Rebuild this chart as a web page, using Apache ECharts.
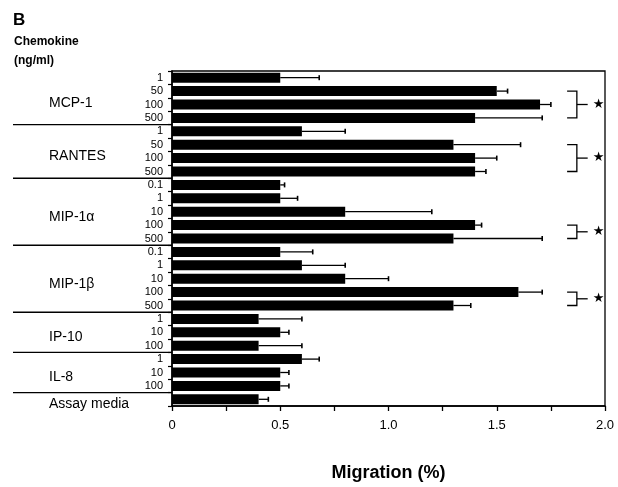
<!DOCTYPE html>
<html>
<head>
<meta charset="utf-8">
<script src="https://cdn.jsdelivr.net/npm/echarts@6/dist/echarts.min.js"></script>
<style>html,body{margin:0;padding:0;background:#fff}#c{width:618px;height:487px}</style>
</head>
<body>
<div id="c"></div>
<script>
const groupNames = ['MCP-1', 'RANTES', 'MIP-1\u03b1', 'MIP-1\u03b2', 'IP-10', 'IL-8', 'Assay media'];
const concLabels = [
  ['1', '50', '100', '500'],
  ['1', '50', '100', '500'],
  ['0.1', '1', '10', '100', '500'],
  ['0.1', '1', '10', '100', '500'],
  ['1', '10', '100'],
  ['1', '10', '100'],
  ['']
];
const migration = [
  0.5, 1.5, 1.7, 1.4,
  0.6, 1.3, 1.4, 1.4,
  0.5, 0.5, 0.8, 1.4, 1.3,
  0.5, 0.6, 0.8, 1.6, 1.3,
  0.4, 0.5, 0.4,
  0.6, 0.5, 0.5,
  0.4
];
const errUpper = [
  0.68, 1.55, 1.75, 1.71,
  0.80, 1.61, 1.50, 1.45,
  0.52, 0.58, 1.20, 1.43, 1.71,
  0.65, 0.80, 1.00, 1.71, 1.38,
  0.60, 0.54, 0.60,
  0.68, 0.54, 0.54,
  0.445
];
const sigBrackets = [[1, 3], [5, 7], [11, 12], [16, 17]];
const xTicks = [0, 0.5, 1.0, 1.5, 2.0];

const concFlat = [];
const groupRanges = [];
concLabels.forEach(g => { const s = concFlat.length; g.forEach(c => concFlat.push(c)); groupRanges.push([s, concFlat.length - 1]); });
const categories = concFlat.map((c, i) => 'r' + i);

const FONT = '"Liberation Sans", Arial, Helvetica, sans-serif';
const chart = echarts.init(document.getElementById('c'), null, { renderer: 'canvas' });

const option = {
  animation: false,
  backgroundColor: '#fff',
  grid: { left: 172, right: 13, top: 71, bottom: 74, show: true, borderColor: '#000', borderWidth: 1.3, backgroundColor: 'transparent' },
  xAxis: {
    type: 'value', min: 0, max: 2, interval: 0.5,
    axisLine: { show: true, lineStyle: { color: '#000', width: 1.5 } },
    axisTick: { show: true, length: 5, lineStyle: { color: '#000', width: 1.3 } },
    minorTick: { show: true, splitNumber: 2, length: 5, lineStyle: { color: '#000', width: 1.3 } },
    splitLine: { show: false },
    axisLabel: { color: '#000', fontSize: 13, fontFamily: FONT, margin: 13,
      formatter: v => { const t = xTicks.find(x => Math.abs(x - v) < 1e-9); return t === undefined ? '' : (t === 0 ? '0' : t.toFixed(1)); } },
    name: 'Migration (%)', nameLocation: 'middle', nameGap: 58,
    nameTextStyle: { color: '#000', fontSize: 18, fontWeight: 'bold', fontFamily: FONT }
  },
  yAxis: {
    type: 'category', inverse: true, data: categories,
    axisLine: { show: true, lineStyle: { color: '#000', width: 1.5 } },
    axisTick: { show: true, length: 4, interval: 0, lineStyle: { color: '#000', width: 1.2 } },
    axisLabel: { color: '#000', fontSize: 11, fontFamily: FONT, margin: 9, padding: [7, 0, 0, 0], interval: 0,
      formatter: (v, i) => concFlat[i] }
  },
  series: [
    { type: 'bar', data: migration, barWidth: 10, itemStyle: { color: '#000' }, silent: true },
    {
      type: 'custom', silent: true,
      data: migration.map((v, i) => [i, v, errUpper[i]]),
      encode: { y: 0, x: [1, 2] },
      renderItem: (params, api) => {
        const idx = api.value(0);
        const p0 = api.coord([api.value(1), idx]);
        const p1 = api.coord([api.value(2), idx]);
        const st = { stroke: '#000', lineWidth: 1.3 };
        return { type: 'group', children: [
          { type: 'line', shape: { x1: p0[0], y1: p0[1], x2: p1[0], y2: p1[1] }, style: st },
          { type: 'line', shape: { x1: p1[0], y1: p1[1] - 2.5, x2: p1[0], y2: p1[1] + 2.5 }, style: { stroke: '#000', lineWidth: 1.6 } }
        ] };
      }
    },
    {
      type: 'custom', silent: true,
      data: sigBrackets,
      encode: { y: [0, 1] },
      renderItem: (params, api) => {
        const a = api.value(0), b = api.value(1);
        const top = api.coord([1.87, a]);
        const bot = api.coord([1.87, b]);
        const xl = api.coord([1.825, a])[0];
        const xr = api.coord([1.92, a])[0];
        const xs = api.coord([1.97, a])[0];
        const ym = (top[1] + bot[1]) / 2;
        const st = { stroke: '#000', lineWidth: 1.3, fill: null };
        return { type: 'group', children: [
          { type: 'polyline', shape: { points: [[xl, top[1]], [top[0], top[1]], [top[0], bot[1]], [xl, bot[1]]] }, style: st },
          { type: 'line', shape: { x1: top[0], y1: ym, x2: xr, y2: ym }, style: st },
          { type: 'text', style: { text: '\u2605', x: xs, y: ym, fontSize: 13, fontFamily: 'DejaVu Sans', align: 'center', verticalAlign: 'middle', fill: '#000' } }
        ] };
      }
    }
  ]
};
chart.setOption(option);

const pix = i => chart.convertToPixel({ yAxisIndex: 0 }, i);
const axisX = chart.convertToPixel({ xAxisIndex: 0 }, 0);
const graphics = [
  { type: 'text', left: 13, top: 12, style: { text: 'B', fontSize: 17, fontWeight: 'bold', fontFamily: FONT, fill: '#000' } },
  { type: 'text', left: 14, top: 36, style: { text: 'Chemokine', fontSize: 12, fontWeight: 'bold', fontFamily: FONT, fill: '#000' } },
  { type: 'text', left: 14, top: 55, style: { text: '(ng/ml)', fontSize: 12, fontWeight: 'bold', fontFamily: FONT, fill: '#000' } }
];
groupRanges.forEach((r, g) => {
  const yc = (pix(r[0]) + pix(r[1])) / 2 + 5;
  graphics.push({ type: 'text', x: 49, y: yc, style: { text: groupNames[g], fontSize: 14, fontFamily: FONT, fill: '#000', verticalAlign: 'middle', align: 'left' } });
  if (g < groupRanges.length - 1) {
    const yb = (pix(r[1]) + pix(r[1] + 1)) / 2;
    graphics.push({ type: 'line', shape: { x1: 13, y1: yb, x2: axisX, y2: yb }, style: { stroke: '#000', lineWidth: 1.4 } });
  }
});
chart.setOption({ graphic: graphics });
</script>
</body>
</html>
